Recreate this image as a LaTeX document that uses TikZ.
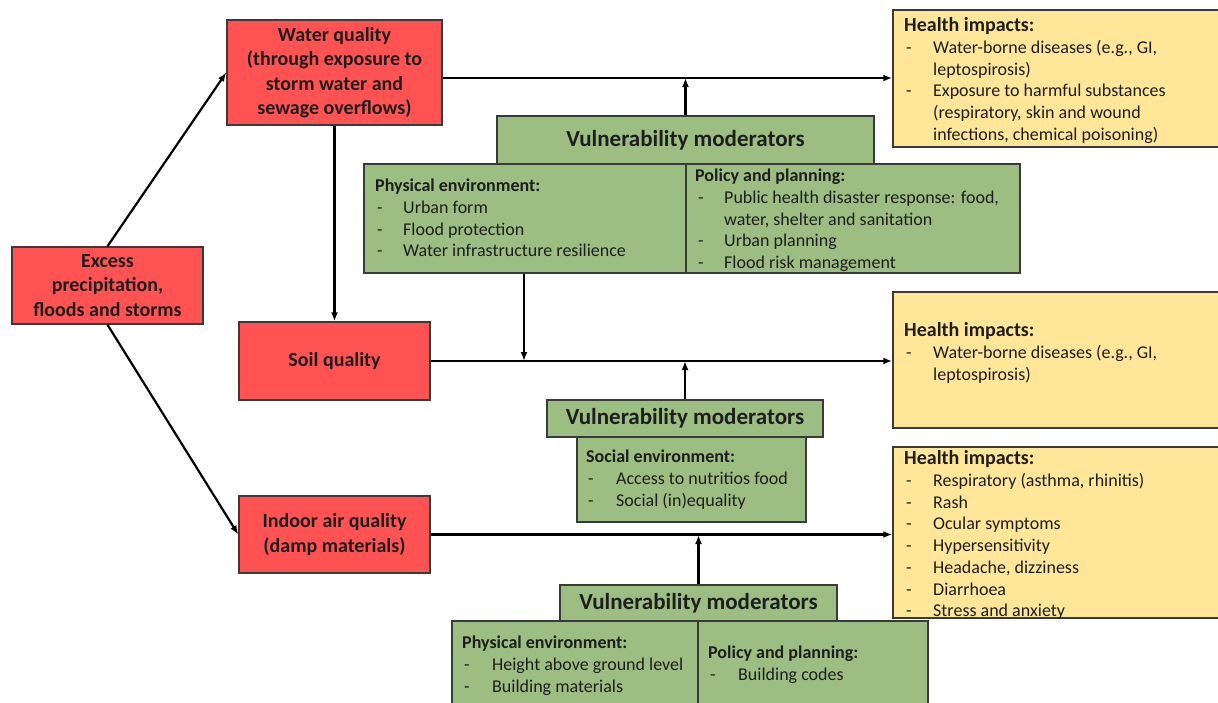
\documentclass[tikz,border=0pt]{standalone}
\usepackage{fontspec}
\setmainfont{Carlito}
\usetikzlibrary{arrows.meta}
\definecolor{redbox}{HTML}{FF5353}
\definecolor{greenbox}{HTML}{9CBE82}
\definecolor{yellowbox}{HTML}{FFE699}
\definecolor{edge}{HTML}{3A3A3A}
\definecolor{ink}{HTML}{1E1E1E}
\tikzset{
  box/.style={draw=edge, line width=1.5pt, rectangle, inner sep=0pt, text=ink},
  redb/.style={box, fill=redbox, align=center, font=\fontsize{20}{24.5}\selectfont\bfseries},
  greenb/.style={box, fill=greenbox},
  yellowb/.style={box, fill=yellowbox},
  vmtitle/.style={box, fill=greenbox, font=\fontsize{23}{26}\selectfont\bfseries},
  lst/.style={inner sep=0pt, anchor=base west, text=ink, font=\fontsize{18}{21.7}\selectfont},
  arr/.style={line width=2.2pt, black, -{Latex[length=9pt,width=7pt]}}
}
\begin{document}
\begin{tikzpicture}[x=1pt,y=-1pt]
\useasboundingbox (0,0) rectangle (1218,702);
% red boxes
\node[redb, minimum width=191pt, minimum height=77pt] (excess) at (107.5,285.5) {Excess\\precipitation,\\floods and storms};
\node[redb, minimum width=215pt, minimum height=105pt] (water) at (334.5,72.5) {Water quality\\(through exposure to\\storm water and\\sewage overflows)};
\node[redb, minimum width=191pt, minimum height=78pt] (soil) at (334.5,361) {Soil quality};
\node[redb, minimum width=191pt, minimum height=77pt] (indoor) at (334.5,534.5) {Indoor air quality\\(damp materials)};
% yellow boxes
\node[yellowb, minimum width=332pt, minimum height=137pt] (h1) at (1059,78.5) {};
\node[yellowb, minimum width=332pt, minimum height=136pt] (h2) at (1059,360) {};
\node[yellowb, minimum width=332pt, minimum height=171pt] (h3) at (1059,532.5) {};
% green boxes
\node[greenb, minimum width=656pt, minimum height=109pt] (vm1) at (692,218.5) {};
\node[vmtitle, minimum width=377pt, minimum height=48pt] (vm1t) at (685.5,140) {Vulnerability moderators};
\draw[edge, line width=1.5pt] (vm1.north -| 686,0) -- (vm1.south -| 686,0);
\node[greenb, minimum width=229pt, minimum height=85pt] (vm2) at (691.5,479.5) {};
\node[vmtitle, minimum width=276pt, minimum height=37pt] (vm2t) at (685,418.5) {Vulnerability moderators};
\node[greenb, minimum width=476pt, minimum height=91pt] (vm3) at (690,666.5) {};
\node[vmtitle, minimum width=277pt, minimum height=36pt] (vm3t) at (698.5,603) {Vulnerability moderators};
\draw[edge, line width=1.5pt] (vm3.north -| 698,0) -- (vm3.south -| 698,0);
% lists
\node[lst] (h1t) at (904,31.8) {\begin{tabular}[t]{@{\hspace{2pt}}p{27pt}@{}l@{}}
\multicolumn{2}{@{}l@{}}{\fontsize{20}{21.7}\selectfont\bfseries Health impacts:}\\
- & Water-borne diseases (e.g., GI,\\
  & leptospirosis)\\
- & Exposure to harmful substances\\
  & (respiratory, skin and wound\\
  & infections, chemical poisoning)
\end{tabular}};
\node[lst] (h2t) at (904,336.8) {\begin{tabular}[t]{@{\hspace{2pt}}p{27pt}@{}l@{}}
\multicolumn{2}{@{}l@{}}{\fontsize{20}{21.7}\selectfont\bfseries Health impacts:}\\
- & Water-borne diseases (e.g., GI,\\
  & leptospirosis)
\end{tabular}};
\node[lst] (h3t) at (904,464.8) {\begin{tabular}[t]{@{\hspace{2pt}}p{27pt}@{}l@{}}
\multicolumn{2}{@{}l@{}}{\fontsize{20}{21.7}\selectfont\bfseries Health impacts:}\\
- & Respiratory (asthma, rhinitis)\\
- & Rash\\
- & Ocular symptoms\\
- & Hypersensitivity\\
- & Headache, dizziness\\
- & Diarrhoea\\
- & Stress and anxiety
\end{tabular}};
\node[lst] (vm1l) at (375,191.8) {\begin{tabular}[t]{@{\hspace{2pt}}p{26pt}@{}l@{}}
\multicolumn{2}{@{}l@{}}{\bfseries Physical environment:}\\
- & Urban form\\
- & Flood protection\\
- & Water infrastructure resilience
\end{tabular}};
\node[lst] (vm1r) at (695,181.8) {\begin{tabular}[t]{@{\hspace{3pt}}p{26pt}@{}l@{}}
\multicolumn{2}{@{}l@{}}{\bfseries Policy and planning:}\\
- & Public health disaster response: food,\\
  & water, shelter and sanitation\\
- & Urban planning\\
- & Flood risk management
\end{tabular}};
\node[lst] (vm2l) at (586,462.8) {\begin{tabular}[t]{@{\hspace{2pt}}p{28pt}@{}l@{}}
\multicolumn{2}{@{}l@{}}{\bfseries Social environment:}\\
- & Access to nutritios food\\
- & Social (in)equality
\end{tabular}};
\node[lst] (vm3l) at (462,648.8) {\begin{tabular}[t]{@{\hspace{2pt}}p{28pt}@{}l@{}}
\multicolumn{2}{@{}l@{}}{\bfseries Physical environment:}\\
- & Height above ground level\\
- & Building materials
\end{tabular}};
\node[lst] (vm3r) at (708,658.8) {\begin{tabular}[t]{@{\hspace{2pt}}p{28pt}@{}l@{}}
\multicolumn{2}{@{}l@{}}{\bfseries Policy and planning:}\\
- & Building codes
\end{tabular}};
% junction coordinates
\coordinate (j1) at (685.5,78);
\coordinate (j2) at (524,361);
\coordinate (j3) at (698.5,535);
% connectors
\draw[arr] (excess.north) -- (water.west);
\draw[arr] (excess.south) -- (indoor.west);
\draw[arr] (water.south) -- (soil.north);
\draw[arr] (water.east |- j1) -- (h1.west |- j1);
\draw[arr] (vm1t.north) -- (j1);
\draw[arr] (soil.east) -- (h2.west |- soil.east);
\draw[arr] (vm1.south -| j2) -- (j2);
\draw[arr] (vm2t.north) -- (vm2t.north |- j2);
\draw[arr] (indoor.east) -- (h3.west |- indoor.east);
\draw[arr] (vm3t.north) -- (j3);
\end{tikzpicture}
\end{document}
